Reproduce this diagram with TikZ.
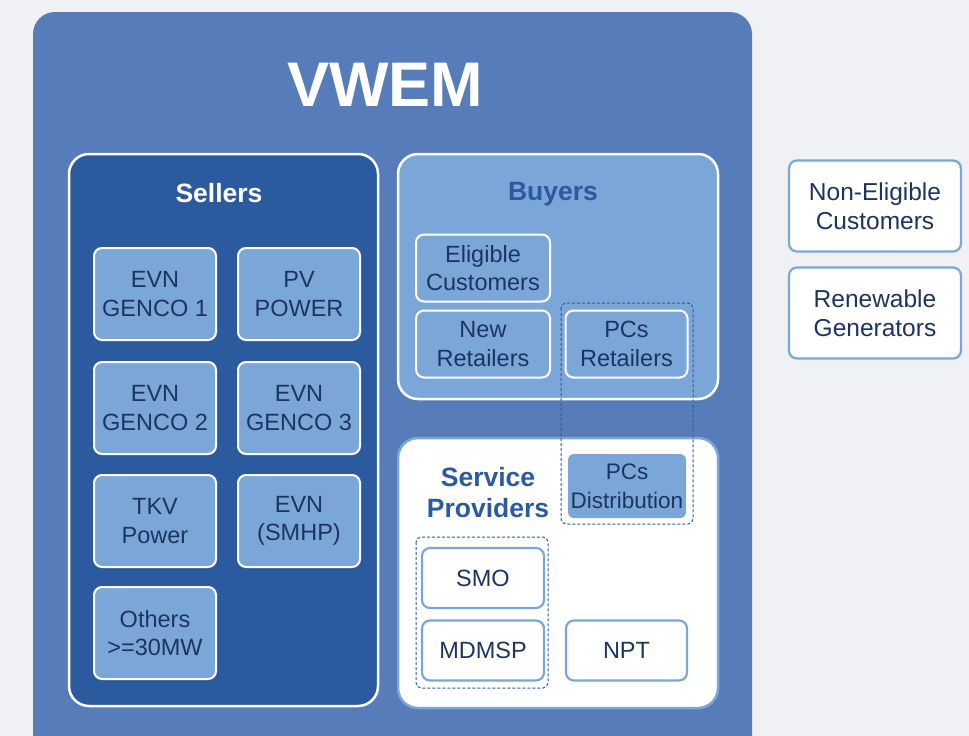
\documentclass[tikz,border=0pt]{standalone}
\usepackage{fontspec}
\setmainfont{Liberation Sans}
\definecolor{bgc}{HTML}{F0F1F5}
\definecolor{mainc}{HTML}{567CBA}
\definecolor{darkc}{HTML}{2C5A9E}
\definecolor{lightc}{HTML}{7BA7D8}
\definecolor{txtc}{HTML}{1C3461}
\tikzset{
  grp/.style={rounded corners=20pt, line width=2.5pt},
  item/.style={draw=white, line width=2pt, fill=lightc, rounded corners=8pt, align=center,
    text=txtc, font=\fontsize{23.5}{28.5}\selectfont, inner sep=0pt},
  wbox/.style={draw=lightc, line width=2.2pt, fill=white, rounded corners=8pt, align=center,
    text=txtc, font=\fontsize{23.5}{28.5}\selectfont, inner sep=0pt},
  ttl/.style={font=\bfseries\fontsize{26.5}{31}\selectfont, align=center},
  dbox/.style={draw=darkc, line width=1pt, dash pattern=on 3pt off 2pt, rounded corners=5pt}
}
\begin{document}
\begin{tikzpicture}[x=1pt,y=-1pt]
\useasboundingbox (0,0) rectangle (969,736);
\clip (0,0) rectangle (969,736);
\fill[bgc] (0,0) rectangle (969,736);
% main
\fill[mainc, rounded corners=22pt] (33,12) rectangle (752,800);
\node[text=white, font=\bfseries\fontsize{63}{70}\selectfont] (vwem) at (385,85) {VWEM};
% sellers
\draw[grp, draw=white, fill=darkc] (69,154) rectangle (378,706);
\node[ttl, text=white] (sellers) at (219,193) {Sellers};
\node[item, minimum width=122pt, minimum height=92pt] (g1) at (155,294) {EVN\\GENCO 1};
\node[item, minimum width=122pt, minimum height=92pt] (pv) at (299,294) {PV\\POWER};
\node[item, minimum width=122pt, minimum height=92pt] (g2) at (155,408) {EVN\\GENCO 2};
\node[item, minimum width=122pt, minimum height=92pt] (g3) at (299,408) {EVN\\GENCO 3};
\node[item, minimum width=122pt, minimum height=92pt] (tkv) at (155,521) {TKV\\Power};
\node[item, minimum width=122pt, minimum height=92pt] (smhp) at (299,521) {EVN\\(SMHP)};
\node[item, minimum width=122pt, minimum height=92pt] (oth) at (155,633) {Others\\>=30MW};
% buyers
\draw[grp, draw=white, fill=lightc] (398,154) rectangle (718,399);
\node[ttl, text=darkc] (buyers) at (553,194) {Buyers};
\node[item, minimum width=134pt, minimum height=67pt] (elig) at (483,268) {Eligible\\Customers};
\node[item, minimum width=134pt, minimum height=67pt] (newr) at (483,344) {New\\Retailers};
\node[item, minimum width=122pt, minimum height=67pt] (pcr) at (626.5,344) {PCs\\Retailers};
% service providers
\draw[grp, draw=lightc, fill=white] (398,438) rectangle (718,708);
\node[ttl, text=darkc] (sp) at (488,493) {Service\\Providers};
\node[item, draw=none, rounded corners=6pt, minimum width=118pt, minimum height=64pt,
  font=\fontsize{22.5}{28.5}\selectfont] (pcd) at (627,486) {PCs\\Distribution};
\node[wbox, minimum width=122pt, minimum height=60pt] (smo) at (483,578) {SMO};
\node[wbox, minimum width=122pt, minimum height=60pt] (mdmsp) at (483,650.5) {MDMSP};
\node[wbox, minimum width=121pt, minimum height=60pt] (npt) at (626.5,650.5) {NPT};
% dashed groups
\draw[dbox] (561,303) rectangle (693,524);
\draw[dbox] (416,537) rectangle (548,688);
% outside
\node[wbox, minimum width=172pt, minimum height=91pt, font=\fontsize{24.5}{28.5}\selectfont] (nonel) at (875,206) {Non-Eligible\\Customers};
\node[wbox, minimum width=172pt, minimum height=91pt, font=\fontsize{24.5}{28.5}\selectfont] (renew) at (875,313) {Renewable\\Generators};
\end{tikzpicture}
\end{document}
